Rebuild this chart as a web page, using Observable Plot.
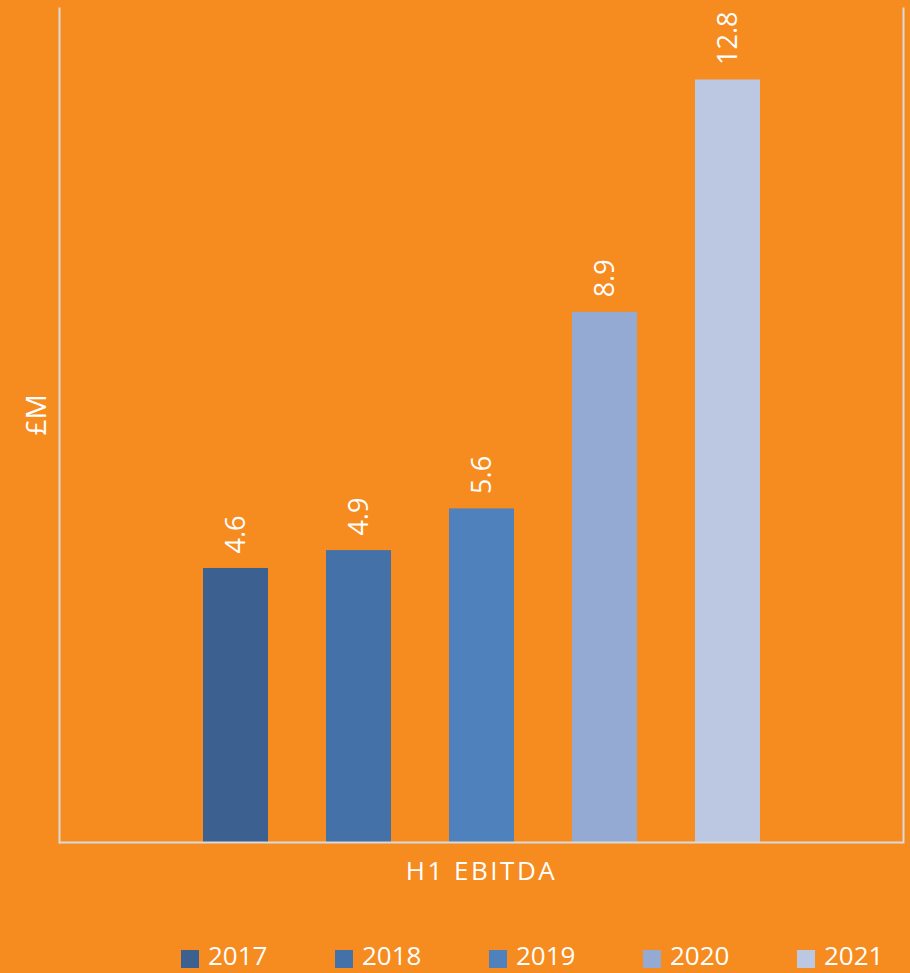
<!DOCTYPE html>
<html>
<head>
<meta charset="utf-8">
<script src="https://cdn.jsdelivr.net/npm/d3@7"></script>
<script src="https://cdn.jsdelivr.net/npm/@observablehq/plot@0.6"></script>
<style>
  html, body { margin: 0; padding: 0; background: #F68B1F; width: 910px; height: 973px; overflow: hidden; }
  #wrap { position: relative; width: 910px; height: 973px; font-family: "Open Sans", sans-serif; }
  #legend { position: absolute; top: 940px; left: 181px; display: flex; }
  .item { width: 154px; height: 30px; display: flex; align-items: center; }
  .item:last-child { width: auto; }
  .sw { width: 18px; height: 18px; margin-right: 9px; position: relative; top: 4px; }
  .lab { font-size: 26px; line-height: 30px; color: #fff; }
</style>
</head>
<body>
<div id="wrap"></div>
<script>
const category = "H1 EBITDA";
const years = ["2017", "2018", "2019", "2020", "2021"];
const values = [4.6, 4.9, 5.6, 8.9, 12.8];
const colors = ["#3C6190", "#4472A8", "#4F81BD", "#95AAD3", "#BCC8E1"];
const yLabel = "£M";

const data = years.map((y, i) => ({cat: category, year: y, value: values[i]}));

const chart = Plot.plot({
  width: 910,
  height: 930,
  marginLeft: 59,
  marginRight: 7,
  marginTop: 8,
  marginBottom: 88,
  style: {fontFamily: "Open Sans", background: "transparent", color: "#fff", overflow: "visible"},
  fx: {domain: [category], padding: 0, axis: null, label: null},
  x: {domain: years, paddingInner: 0.4726, paddingOuter: 1.1603, axis: null},
  y: {domain: [0, 14], axis: null},
  color: {domain: years, range: colors},
  marks: [
    Plot.barY(data, {fx: "cat", x: "year", y: "value", fill: "year"}),
    Plot.text(data, {fx: "cat", x: "year", y: "value", text: d => d.value.toFixed(1),
      rotate: -90, textAnchor: "start", dy: -15, fill: "#fff", fontSize: 27}),
    Plot.ruleY([0], {stroke: "#DADADA", strokeWidth: 2}),
    Plot.frame({anchor: "left", stroke: "#DADADA", strokeWidth: 2}),
    Plot.frame({anchor: "right", stroke: "#DADADA", strokeWidth: 2}),
    Plot.text([category], {frameAnchor: "bottom", dx: 0, dy: 37, fontSize: 26, fill: "#fff"}),
    Plot.text([yLabel], {frameAnchor: "left", rotate: -90, dx: -22, dy: 10, fontSize: 28, fill: "#fff"})
  ]
});
d3.select(chart).selectAll("text")
  .filter(function () { return this.textContent === category; })
  .style("letter-spacing", "2.5px");
document.getElementById("wrap").appendChild(chart);

const legend = document.createElement("div");
legend.id = "legend";
years.forEach((y, i) => {
  const it = document.createElement("div");
  it.className = "item";
  const sw = document.createElement("div");
  sw.className = "sw";
  sw.style.background = colors[i];
  const lab = document.createElement("span");
  lab.className = "lab";
  lab.textContent = y;
  it.appendChild(sw);
  it.appendChild(lab);
  legend.appendChild(it);
});
document.getElementById("wrap").appendChild(legend);
</script>
</body>
</html>
